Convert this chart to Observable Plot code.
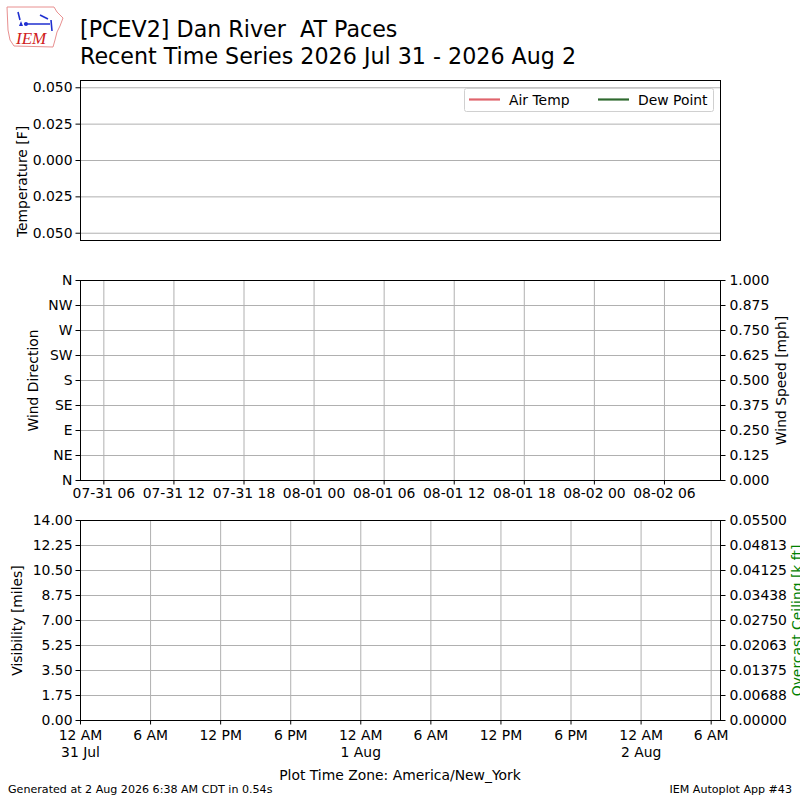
<!DOCTYPE html>
<html>
<head>
<meta charset="utf-8">
<script src="https://cdn.jsdelivr.net/npm/d3@7"></script>
<script src="https://cdn.jsdelivr.net/npm/@observablehq/plot@0.6"></script>
<style>
body {margin: 0; overflow: hidden; background: white;}
#page {position: relative; width: 800px; height: 800px; font-family: "DejaVu Sans";}
#page svg {position: absolute; left: 0; top: 0;}
</style>
</head>
<body>
<div id="page"></div>
<script>
// textos
const titulo1 = "[PCEV2] Dan River  AT Paces"
const titulo2 = "Recent Time Series 2026 Jul 31 - 2026 Aug 2"
const zonaHoraria = "Plot Time Zone: America/New_York"
const generado = "Generated at 2 Aug 2026 6:38 AM CDT in 0.54s"
const app = "IEM Autoplot App #43"

// rango de tiempo (UTC) -> 12 AM EDT 31 Jul hasta ~6:48 AM EDT 2 Aug
const inicio = new Date(Date.UTC(2026, 6, 31, 4, 0))
const fin = new Date(Date.UTC(2026, 7, 2, 10, 48))

// observaciones: la estacion no reporto nada en el periodo
const obsTimes = []
const airTemp = []
const dewPoint = []
const windDir = []
const windSpeed = []
const visibility = []
const ceiling = []

// ticks panel temperatura
const tempTicks = [-0.05, -0.025, 0, 0.025, 0.05]
const tempLabels = ["0.050", "0.025", "0.000", "0.025", "0.050"]

// ticks panel viento
const dirTicks = [0, 45, 90, 135, 180, 225, 270, 315, 360]
const dirLabels = ["N", "NE", "E", "SE", "S", "SW", "W", "NW", "N"]
const speedTicks = [0, 0.125, 0.25, 0.375, 0.5, 0.625, 0.75, 0.875, 1]
const speedLabels = ["0.000", "0.125", "0.250", "0.375", "0.500", "0.625", "0.750", "0.875", "1.000"]
const utcTicks = [
  "2026-07-31T06:00Z", "2026-07-31T12:00Z", "2026-07-31T18:00Z",
  "2026-08-01T00:00Z", "2026-08-01T06:00Z", "2026-08-01T12:00Z",
  "2026-08-01T18:00Z", "2026-08-02T00:00Z", "2026-08-02T06:00Z"
].map(d => new Date(d))
const utcLabels = ["07-31 06", "07-31 12", "07-31 18", "08-01 00", "08-01 06", "08-01 12", "08-01 18", "08-02 00", "08-02 06"]

// ticks panel visibilidad / techo
const visTicks = [0, 1.75, 3.5, 5.25, 7, 8.75, 10.5, 12.25, 14]
const visLabels = ["0.00", "1.75", "3.50", "5.25", "7.00", "8.75", "10.50", "12.25", "14.00"]
const ceilTicks = [0, 0.006875, 0.01375, 0.020625, 0.0275, 0.034375, 0.04125, 0.048125, 0.055]
const ceilLabels = ["0.00000", "0.00688", "0.01375", "0.02063", "0.02750", "0.03438", "0.04125", "0.04813", "0.05500"]
const localTicks = [
  "2026-07-31T04:00Z", "2026-07-31T10:00Z", "2026-07-31T16:00Z", "2026-07-31T22:00Z",
  "2026-08-01T04:00Z", "2026-08-01T10:00Z", "2026-08-01T16:00Z", "2026-08-01T22:00Z",
  "2026-08-02T04:00Z", "2026-08-02T10:00Z"
].map(d => new Date(d))
const localLabels = ["12 AM\n31 Jul", "6 AM", "12 PM", "6 PM", "12 AM\n1 Aug", "6 AM", "12 PM", "6 PM", "12 AM\n2 Aug", "6 AM"]

const colorTemp = "#e0646c"
const colorDew = "#2f6a2f"
const colorGrid = "#b0b0b0"

const obs = obsTimes.map((t, i) => ({
  time: t, tmpf: airTemp[i], dwpf: dewPoint[i], drct: windDir[i],
  sknt: windSpeed[i], vsby: visibility[i], ceil: ceiling[i]
}))

const etiqueta = (ticks, labels) => {
  const m = new Map(ticks.map((t, i) => [+t, labels[i]]))
  return d => m.get(+d)
}

const estilo = {background: "transparent", fontFamily: "DejaVu Sans", fontSize: "13.9px", color: "black"}
const grilla = {stroke: colorGrid, strokeOpacity: 1, strokeWidth: 1}
const ejes = {tickSize: 4.5, tickPadding: 3.5, label: null}
const rotulo = {text: d => d, rotate: -90, textAnchor: "middle"}

const pagina = d3.select('#page')

/* Panel 1: temperatura */
let panel1 = Plot.plot({
  width: 800, height: 800,
  marginTop: 80, marginBottom: 560, marginLeft: 80, marginRight: 80,
  style: estilo,
  x: {type: "utc", domain: [inicio, fin], axis: null},
  y: {domain: [-0.055, 0.055]},
  marks: [
    Plot.gridY(tempTicks, grilla),
    Plot.line(obs, {x: "time", y: "tmpf", stroke: colorTemp, strokeWidth: 2}),
    Plot.line(obs, {x: "time", y: "dwpf", stroke: colorDew, strokeWidth: 2}),
    Plot.frame({stroke: "black"}),
    Plot.axisY(tempTicks, {...ejes, tickFormat: etiqueta(tempTicks, tempLabels)}),
    Plot.text(["Temperature [F]"], {...rotulo, frameAnchor: "left", dx: -58, dy: 21}),
  ],
})
pagina.append(() => panel1)

/* Panel 2: viento */
const escalaViento = 360 / 1
let panel2 = Plot.plot({
  width: 800, height: 800,
  marginTop: 280, marginBottom: 320, marginLeft: 80, marginRight: 80,
  style: estilo,
  x: {type: "utc", domain: [inicio, fin]},
  y: {domain: [0, 360]},
  marks: [
    Plot.gridY(dirTicks, grilla),
    Plot.gridX(utcTicks, grilla),
    Plot.dot(obs, {x: "time", y: "drct", fill: "black", r: 2}),
    Plot.line(obs, {x: "time", y: d => d.sknt * escalaViento, stroke: "red"}),
    Plot.frame({stroke: "black"}),
    Plot.axisY(dirTicks, {...ejes, tickFormat: etiqueta(dirTicks, dirLabels)}),
    Plot.axisY(speedTicks.map(d => d * escalaViento), {...ejes, anchor: "right", tickPadding: 4.5,
      tickFormat: etiqueta(speedTicks.map(d => d * escalaViento), speedLabels)}),
    Plot.axisX(utcTicks, {...ejes, tickFormat: etiqueta(utcTicks, utcLabels)}),
    Plot.text(["Wind Direction"], {...rotulo, frameAnchor: "left", dx: -47}),
    Plot.text(["Wind Speed [mph]"], {...rotulo, frameAnchor: "right", dx: 61.5}),
  ],
})
pagina.append(() => panel2)

/* Panel 3: visibilidad y techo */
const escalaTecho = 14 / 0.055
let panel3 = Plot.plot({
  width: 800, height: 800,
  marginTop: 520, marginBottom: 80, marginLeft: 80, marginRight: 80,
  style: estilo,
  x: {type: "utc", domain: [inicio, fin]},
  y: {domain: [0, 14]},
  marks: [
    Plot.gridY(visTicks, grilla),
    Plot.gridX(localTicks, grilla),
    Plot.line(obs, {x: "time", y: "vsby", stroke: "black"}),
    Plot.line(obs, {x: "time", y: d => d.ceil * escalaTecho, stroke: "green"}),
    Plot.frame({stroke: "black"}),
    Plot.axisY(visTicks, {...ejes, tickFormat: etiqueta(visTicks, visLabels)}),
    Plot.axisY(ceilTicks.map(d => d * escalaTecho), {...ejes, anchor: "right", tickPadding: 4.5,
      tickFormat: etiqueta(ceilTicks.map(d => d * escalaTecho), ceilLabels)}),
    Plot.axisX(localTicks, {...ejes, lineHeight: 1.2, tickFormat: etiqueta(localTicks, localLabels)}),
    Plot.text(["Visibility [miles]"], {...rotulo, frameAnchor: "left", dx: -63}),
    Plot.text(["Overcast Ceiling [k ft]"], {...rotulo, frameAnchor: "right", dx: 77, fill: "green"}),
  ],
})
pagina.append(() => panel3)

/* Titulo, leyenda, pie y logo */
const capa = pagina.append('svg').attr('width', 800).attr('height', 800)
  .style('font-family', 'DejaVu Sans')

capa.append('text').attr('x', 80).attr('y', 37).attr('font-size', 22.2)
  .style('white-space', 'pre').text(titulo1)
capa.append('text').attr('x', 80).attr('y', 63.5).attr('font-size', 22.2).text(titulo2)

// leyenda
const ley = capa.append('g')
ley.append('rect').attr('x', 464.5).attr('y', 88.5).attr('width', 249).attr('height', 23).attr('rx', 2)
  .attr('fill', 'white').attr('fill-opacity', 0.8).attr('stroke', '#d0d0d0')
;[[469, colorTemp, "Air Temp", 509], [598, colorDew, "Dew Point", 638]].forEach(([x, c, t, tx]) => {
  ley.append('line').attr('x1', x).attr('x2', x + 31).attr('y1', 99.5).attr('y2', 99.5)
    .attr('stroke', c).attr('stroke-width', 2.2)
  ley.append('text').attr('x', tx).attr('y', 104.5).attr('font-size', 13.9).text(t)
})

capa.append('text').attr('x', 400).attr('y', 780).attr('text-anchor', 'middle').attr('font-size', 13.9).text(zonaHoraria)
capa.append('text').attr('x', 8).attr('y', 793).attr('font-size', 11.1).text(generado)
capa.append('text').attr('x', 792).attr('y', 793).attr('text-anchor', 'end').attr('font-size', 11.1).text(app)

// logo IEM aproximado
const logo = capa.append('g')
logo.append('path').attr('d', 'M7,7 L54,7 L57,12 L63,18 L60,26 L57,32 L55,40 L53,47 L14,46 L10,40 L8,30 Z')
  .attr('fill', 'none').attr('stroke', '#e89090').attr('stroke-width', 1)
logo.append('path').attr('d', 'M18,12 L20,20 M24,24 L50,24 M40,15 L48,19 M51,20 L52,31')
  .attr('fill', 'none').attr('stroke', '#2030d0').attr('stroke-width', 1.6)
logo.append('circle').attr('cx', 26).attr('cy', 24).attr('r', 2).attr('fill', '#2030d0')
logo.append('path').attr('d', 'M19,26 L21,21 L23,26 Z').attr('fill', '#2030d0')
logo.append('text').attr('x', 16).attr('y', 44).attr('font-family', 'Liberation Serif')
  .attr('font-style', 'italic').attr('font-size', 17).attr('fill', '#d02020').text('IEM')
</script>
</body>
</html>
